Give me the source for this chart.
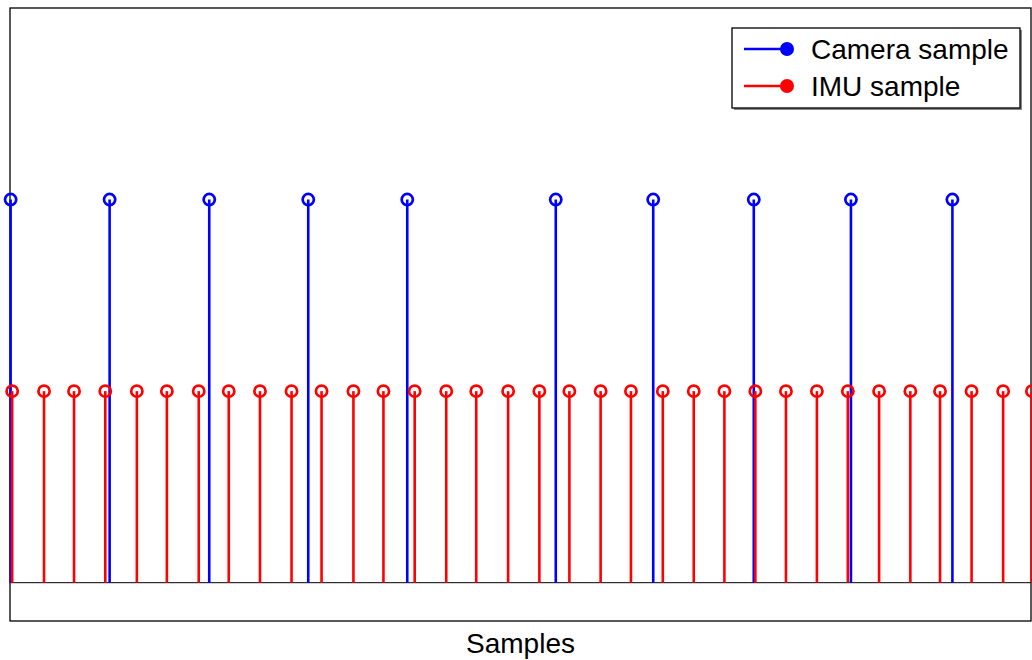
<!DOCTYPE html>
<html>
  <head>
    <meta http-equiv="Content-Type" content="text/html;charset=utf-8" />
    <title>Camera / IMU samples</title>
    <style>
      body {
        margin: 0;
        font-family: "Liberation Sans", Arial, sans-serif;
        background: #fff;
      }
      .stem {
        stroke-width: 2.6px;
      }
      .head {
        fill: none;
        stroke-width: 2.7px;
      }
      .legend text,
      .xlabel {
        font-size: 28px;
        fill: #000;
      }
    </style>
    <script src="https://d3js.org/d3.v7.min.js"></script>
  </head>
  <body>
    <div id="chart"></div>
    <script type="text/javascript">
      // sample times (ms)
      const cameraTimes = [0.2, 32.2, 64.4, 96.4, 128.4, 176.4, 207.9, 240.4, 271.8, 304.6];
      const imuTimes = [
        0.7, 11.0, 20.7, 30.8, 41.0, 50.7, 61.0, 70.7, 80.8, 91.0, 100.7, 111.0,
        120.7, 130.8, 141.0, 150.7, 161.0, 171.1, 180.8, 190.9, 200.7, 211.0,
        221.0, 230.9, 240.9, 250.8, 260.8, 270.8, 280.9, 291.0, 300.6, 310.8,
        321.0, 330.3,
      ];
      const cameraLevel = 1.0;
      const imuLevel = 0.5;
      const seriesNames = ["Camera sample", "IMU sample"];
      const seriesColors = ["#0000ff", "#ff0000"];

      const width = 1032,
        height = 660;
      const margin = { top: 8, right: 1, bottom: 39, left: 10 };

      const x = d3
        .scaleLinear()
        .domain([0, 330])
        .range([margin.left, width - margin.right]);
      const y = d3
        .scaleLinear()
        .domain([-0.1, 1.5])
        .range([height - margin.bottom, margin.top]);

      const svg = d3
        .select("#chart")
        .append("svg")
        .attr("width", width)
        .attr("height", height);

      // axes box
      svg
        .append("rect")
        .attr("x", x(0))
        .attr("y", y(1.5))
        .attr("width", x(330) - x(0))
        .attr("height", y(-0.1) - y(1.5))
        .style("fill", "#fff")
        .style("stroke", "#000")
        .style("stroke-width", 1.3);

      // stem baseline
      svg
        .append("line")
        .attr("x1", x(0))
        .attr("x2", x(330))
        .attr("y1", y(0))
        .attr("y2", y(0))
        .style("stroke", "#000")
        .style("stroke-width", 1);

      const series = [
        { name: seriesNames[0], times: cameraTimes, level: cameraLevel, color: seriesColors[0] },
        { name: seriesNames[1], times: imuTimes, level: imuLevel, color: seriesColors[1] },
      ];

      series.forEach(function (s) {
        const g = svg.append("g");
        g.selectAll("line")
          .data(s.times)
          .enter()
          .append("line")
          .attr("class", "stem")
          .attr("x1", function (d) { return x(d); })
          .attr("x2", function (d) { return x(d); })
          .attr("y1", y(0))
          .attr("y2", y(s.level))
          .style("stroke", s.color);
        g.selectAll("circle")
          .data(s.times)
          .enter()
          .append("circle")
          .attr("class", "head")
          .attr("cx", function (d) { return x(d); })
          .attr("cy", y(s.level))
          .attr("r", 5.6)
          .style("stroke", s.color);
      });

      // x label
      svg
        .append("text")
        .attr("class", "xlabel")
        .attr("x", (x(0) + x(330)) / 2)
        .attr("y", 653)
        .attr("text-anchor", "middle")
        .text("Samples");

      // legend
      const legend = svg.append("g").attr("class", "legend");
      const lx = 732,
        ly = 28,
        lw = 288,
        lh = 80;
      legend
        .append("rect")
        .attr("x", lx + 2)
        .attr("y", ly + 2)
        .attr("width", lw)
        .attr("height", lh)
        .style("fill", "#888");
      legend
        .append("rect")
        .attr("x", lx)
        .attr("y", ly)
        .attr("width", lw)
        .attr("height", lh)
        .style("fill", "#fff")
        .style("stroke", "#000")
        .style("stroke-width", 1.3);

      series.forEach(function (s, i) {
        const cy = ly + 21 + i * 37;
        legend
          .append("line")
          .attr("x1", lx + 12)
          .attr("x2", lx + 55)
          .attr("y1", cy)
          .attr("y2", cy)
          .style("stroke", s.color)
          .style("stroke-width", 2.6);
        legend
          .append("circle")
          .attr("cx", lx + 55)
          .attr("cy", cy)
          .attr("r", 7)
          .style("fill", s.color);
        legend
          .append("text")
          .attr("x", lx + 79)
          .attr("y", cy)
          .attr("dy", "0.36em")
          .text(s.name);
      });
    </script>
  </body>
</html>
